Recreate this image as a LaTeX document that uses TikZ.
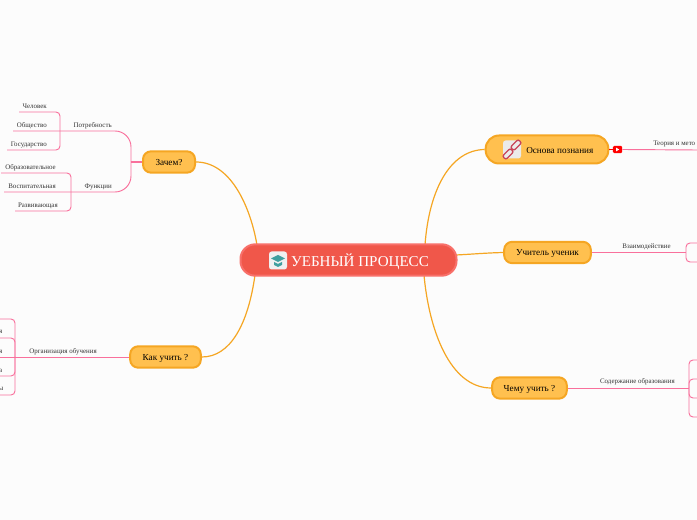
\documentclass[tikz,border=0pt]{standalone}
\usepackage{fontspec}
\setmainfont{Liberation Serif}
\definecolor{rootred}{HTML}{F0574A}
\definecolor{rootedge}{HTML}{F8706A}
\definecolor{mainfill}{HTML}{FFC04F}
\definecolor{mainedge}{HTML}{F5A623}
\definecolor{twig}{HTML}{F9709C}
\definecolor{linktext}{HTML}{333333}
\definecolor{chain}{HTML}{C8455A}
\tikzset{
  rootbox/.style={draw=rootedge, fill=rootred, line width=1.5pt, rounded corners=11pt, minimum width=162pt, minimum height=23.5pt, inner sep=0pt},
  mainbox/.style={draw=mainedge, fill=mainfill, line width=1.5pt, rounded corners=6pt, text=black, font=\fontsize{6.9}{8}\selectfont, text height=5.2pt, text depth=0pt, inner sep=0pt},
  leaf/.style={text=linktext, font=\fontsize{5.2}{6}\selectfont, inner sep=0pt, anchor=base east},
  limb/.style={draw=mainedge, line width=0.9pt},
  twigline/.style={draw=twig, line width=0.7pt},
  iconbox/.style={rounded corners=2pt, fill=#1, inner sep=0pt, minimum size=13.5pt}
}
\begin{document}
\begin{tikzpicture}[x=0.75pt, y=-0.75pt]
  \useasboundingbox (0,0) rectangle (697,520);
  \clip (0,0) rectangle (697,520);
  \fill[white!99!black] (0,0) rectangle (697,520);

  % central node and main branches
  \coordinate (rootNE) at (425,245);
  \coordinate (rootE) at (456,255);
  \coordinate (rootSE) at (424,275);
  \coordinate (rootNW) at (257,245);
  \coordinate (rootSW) at (255,275);
  \node[mainbox, rounded corners=10pt, minimum width=92pt, minimum height=21pt] (osnova) at (547,149.5) {};
  \node[mainbox, minimum width=65pt, minimum height=16pt] (uchitel) at (547.5,252.5) {Учитель ученик};
  \node[mainbox, minimum width=56pt, minimum height=16pt] (chemu) at (529.5,388) {Чему учить ?};
  \node[mainbox, minimum width=39pt, minimum height=16pt] (zachem) at (169,162) {Зачем?};
  \node[mainbox, minimum width=53pt, minimum height=16pt] (kak) at (165.5,357) {Как учить ?};
  \draw[limb] (rootNE) .. controls (429,190) and (450,150) .. (osnova.west);
  \draw[limb] (rootE) .. controls (475,254) and (485,253) .. (uchitel.west);
  \draw[limb] (rootSE) .. controls (429,330) and (450,388) .. (chemu.west);
  \draw[limb] (rootNW) .. controls (250,205) and (230,162) .. (zachem.east);
  \draw[limb] (rootSW) .. controls (248,325) and (230,357) .. (kak.east);
  \node[rootbox] (root) at (348.5,260) {};
  \node[iconbox=white!94!black] (capicon) at (278,260.5) {};
  \fill[teal!75!white] (capicon.center) ++(-7,-2) -- ++(7,-3.5) -- ++(7,3.5) -- ++(-7,3.5) -- cycle;
  \fill[teal!75!white] (capicon.center) ++(-4,1.5) -- ++(4,2) -- ++(4,-2) -- ++(0,3) -- ++(-4,2) -- ++(-4,-2) -- cycle;
  \node[text=white, font=\fontsize{11.3}{12}\selectfont, inner sep=0pt] (roottext) at (360,261.5) {УЕБНЫЙ ПРОЦЕСС};

  % link icon and text of the first branch
  \node[iconbox=white!92!black] (linkicon) at (512,149.5) {};
  \draw[chain, line width=1pt, rounded corners=1.5pt, rotate around={45:(508,154)}] (502.5,151.5) rectangle (513.5,156.5);
  \draw[chain, line width=1pt, rounded corners=1.5pt, rotate around={45:(516,145)}] (510.5,142.5) rectangle (521.5,147.5);
  \node[font=\fontsize{6.9}{8}\selectfont, inner sep=0pt, anchor=west] (osnovatext) at (526,150.5) {Основа познания};

  % Основа познания
  \coordinate (rightend) at (697,150);
  \node[fill=red, rounded corners=1pt, minimum width=7pt, minimum height=5.5pt, inner sep=0pt] (ytube) at (617.5,149.5) {};
  \fill[white] (616.2,147.7) -- (619.2,149.5) -- (616.2,151.3) -- cycle;
  \draw[twigline] (ytube.east) -- (rightend);
  \draw[red, line width=0.7pt] (osnova.east) -- (ytube.west);
  \node[leaf, anchor=base west] (teoria) at (653,146) {Теория и мето};

  % Учитель ученик
  \coordinate (boxTop) at (697,243);
  \coordinate (boxBot) at (697,262);
  \coordinate (boxMid) at (686,252.5);
  \draw[twigline] (uchitel.east) -- (boxMid);
  \draw[twigline, rounded corners=3pt] (boxTop) -- (686,243) -- (686,262) -- (boxBot);
  \node[leaf] (vzaim) at (671,248.5) {Взаимодействие};

  % Чему учить
  \coordinate (contentMid) at (689,388);
  \draw[twigline] (chemu.east) -- (contentMid);
  \draw[twigline, rounded corners=3pt] (697,360) -- (689,360) -- (689,388);
  \draw[twigline, rounded corners=3pt] (697,379) -- (689,379) -- (689,388);
  \draw[twigline, rounded corners=3pt] (697,398) -- (689,398) -- (689,388);
  \draw[twigline, rounded corners=3pt] (697,417) -- (689,417) -- (689,388);
  \node[leaf] (soderzh) at (675,383.5) {Содержание образования};

  % Зачем?
  \coordinate (hub) at (131,162);
  \coordinate (potrEnd) at (13,131);
  \coordinate (funcEnd) at (4,192);
  \draw[twigline, line width=1pt] (zachem.west) -- (hub);
  \draw[twigline, rounded corners=12pt] (potrEnd) -- (131,131) -- (hub);
  \draw[twigline, rounded corners=12pt] (funcEnd) -- (131,192) -- (hub);
  \node[leaf] (potr) at (112,127.5) {Потребность};
  \node[leaf] (func) at (112,188.5) {Функции};
  \draw[twigline, rounded corners=3pt] (19,112) -- (60,112) -- (60,150) -- (7,150);
  \draw[twigline, rounded corners=3pt] (1,173) -- (71,173) -- (71,211) -- (15,211);
  \node[leaf] (chel) at (47,108.5) {Человек};
  \node[leaf] (obsh) at (47,127.5) {Общество};
  \node[leaf] (gos) at (47,146.5) {Государство};
  \node[leaf] (obraz) at (56,169.5) {Образовательное};
  \node[leaf] (vosp) at (56,188.5) {Воспитательная};
  \node[leaf] (razv) at (58,207.5) {Развивающая};

  % Как учить
  \coordinate (orgEnd) at (0,357);
  \draw[twigline] (kak.west) -- (orgEnd);
  \node[leaf] (org) at (97,353.5) {Организация обучения};
  \draw[twigline, rounded corners=3pt] (0,319) -- (15,319) -- (15,357);
  \draw[twigline, rounded corners=3pt] (0,338) -- (15,338) -- (15,357);
  \draw[twigline, rounded corners=3pt] (0,376) -- (15,376) -- (15,357);
  \draw[twigline, rounded corners=3pt] (0,395) -- (15,395) -- (15,357);
  \node[leaf] (orgA) at (2.5,333.5) {я};
  \node[leaf] (orgB) at (2.5,353.5) {я};
  \node[leaf] (orgC) at (2.5,372.5) {а};
  \node[leaf] (orgD) at (3.5,390.5) {ы};
\end{tikzpicture}
\end{document}
